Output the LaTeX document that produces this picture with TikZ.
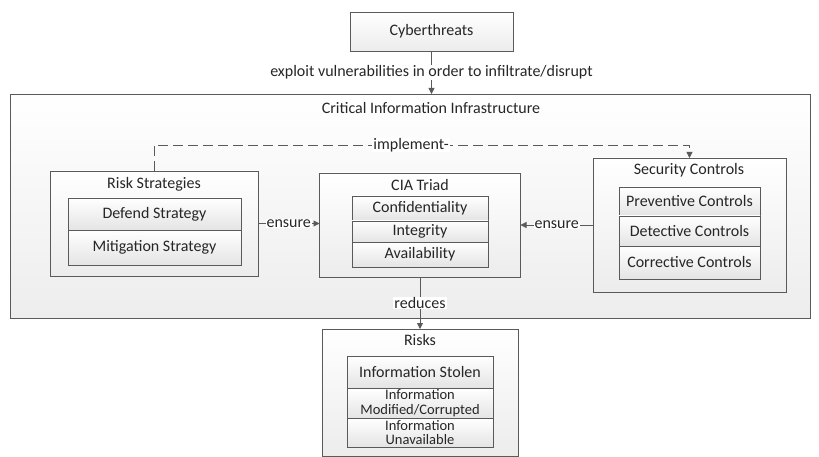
\documentclass[tikz,border=0pt]{standalone}
\usepackage{fontspec}
\setmainfont{Carlito}
\usetikzlibrary{arrows.meta, positioning}
\definecolor{cline}{HTML}{5A5A5A}
\definecolor{ctext}{HTML}{262626}
\definecolor{cshade}{HTML}{E4E4E4}
\definecolor{cpale}{HTML}{EDEDED}
\tikzset{
  every picture/.style={font=\fontsize{16}{16}\selectfont, text=ctext, line width=0.8pt},
  area/.style={draw=cline, top color=white, bottom color=cpale, inner sep=0pt, outer sep=0pt, anchor=north west},
  panel/.style={draw=cline, top color=white, bottom color=cshade!70, inner sep=0pt, outer sep=0pt},
  cell/.style={draw=cline, top color=white, bottom color=cshade, inner xsep=1pt, inner ysep=0pt, outer sep=0pt, align=center, minimum width=#1},
  twoline/.style={font=\fontsize{14.5}{14.5}\selectfont},
  heading/.style={inner sep=1pt},
  arrow/.style={-{Triangle[length=6pt, width=6pt]}, draw=cline},
  tag/.style={fill=white, inner xsep=1pt, inner ysep=0.5pt},
}
\begin{document}
\begin{tikzpicture}[x=1pt, y=-1pt]
  \useasboundingbox (0,0) rectangle (819,457);
  % threat source and the infrastructure around everything
  \node[panel, anchor=north, minimum width=163pt, minimum height=39pt] (cyber) at (431.5,12) {Cyberthreats};
  \node[area, minimum width=800pt, minimum height=224pt] (cii) at (10,94) {};
  \node[heading] (ciititle) at (431,108) {Critical Information Infrastructure};
  \draw[arrow] (cyber.south) -- node[tag] {exploit vulnerabilities in order to infiltrate/disrupt} (cyber.south |- cii.north);

  % risk strategies
  \node[panel, anchor=north west, minimum width=208pt, minimum height=105pt] (risk) at (50,171) {};
  \node[heading] at (154,184) {Risk Strategies};
  \node[cell=173pt, minimum height=32pt, anchor=north west] (defend) at (68,198) {Defend Strategy};
  \node[cell=173pt, minimum height=35pt, below=0pt of defend] (mitigation) {Mitigation Strategy};

  % CIA triad
  \node[panel, anchor=north, minimum width=201pt, minimum height=104pt] (cia) at (420,173) {};
  \node[heading] at (420,185) {CIA Triad};
  \node[cell=136pt, minimum height=25pt, anchor=north] (conf) at (420,196) {Confidentiality};
  \node[cell=136pt, minimum height=21pt, below=0pt of conf] (integ) {Integrity};
  \node[cell=136pt, minimum height=25pt, below=0pt of integ] (avail) {Availability};

  % security controls
  \node[panel, anchor=north west, minimum width=193pt, minimum height=134pt] (sec) at (593,158) {};
  \node[heading] at (689,170) {Security Controls};
  \node[cell=141pt, minimum height=29pt, anchor=north west] (prev) at (619,187) {Preventive Controls};
  \node[cell=141pt, minimum height=30pt, below=0pt of prev] (detect) {Detective Controls};
  \node[cell=141pt, minimum height=33pt, below=0pt of detect] (correct) {Corrective Controls};

  % risks
  \node[panel, anchor=north, minimum width=196pt, minimum height=127pt] (risks) at (420,329) {};
  \node[heading] at (420,340) {Risks};
  \node[cell=146pt, minimum height=32pt, anchor=north] (stolen) at (420,356) {Information Stolen};
  \node[cell=146pt, twoline, minimum height=30pt, below=0pt of stolen] (modified) {Information\\Modified/Corrupted};
  \node[cell=146pt, twoline, minimum height=29pt, below=0pt of modified] (unavail) {Information\\Unavailable};

  % connectors
  \draw[arrow, dash pattern=on 10pt off 5pt] (risk.north) -- ++(0,-26) -| node[tag, pos=0.24] {implement-} (sec.north);
  \draw[arrow] (risk.east) -- node[tag] {ensure} (risk.east -| cia.west);
  \draw[arrow] (sec.west) -- node[tag] {ensure} (sec.west -| cia.east);
  \draw[arrow] (cia.south) -- node[tag] {reduces} (risks.north);
\end{tikzpicture}
\end{document}
